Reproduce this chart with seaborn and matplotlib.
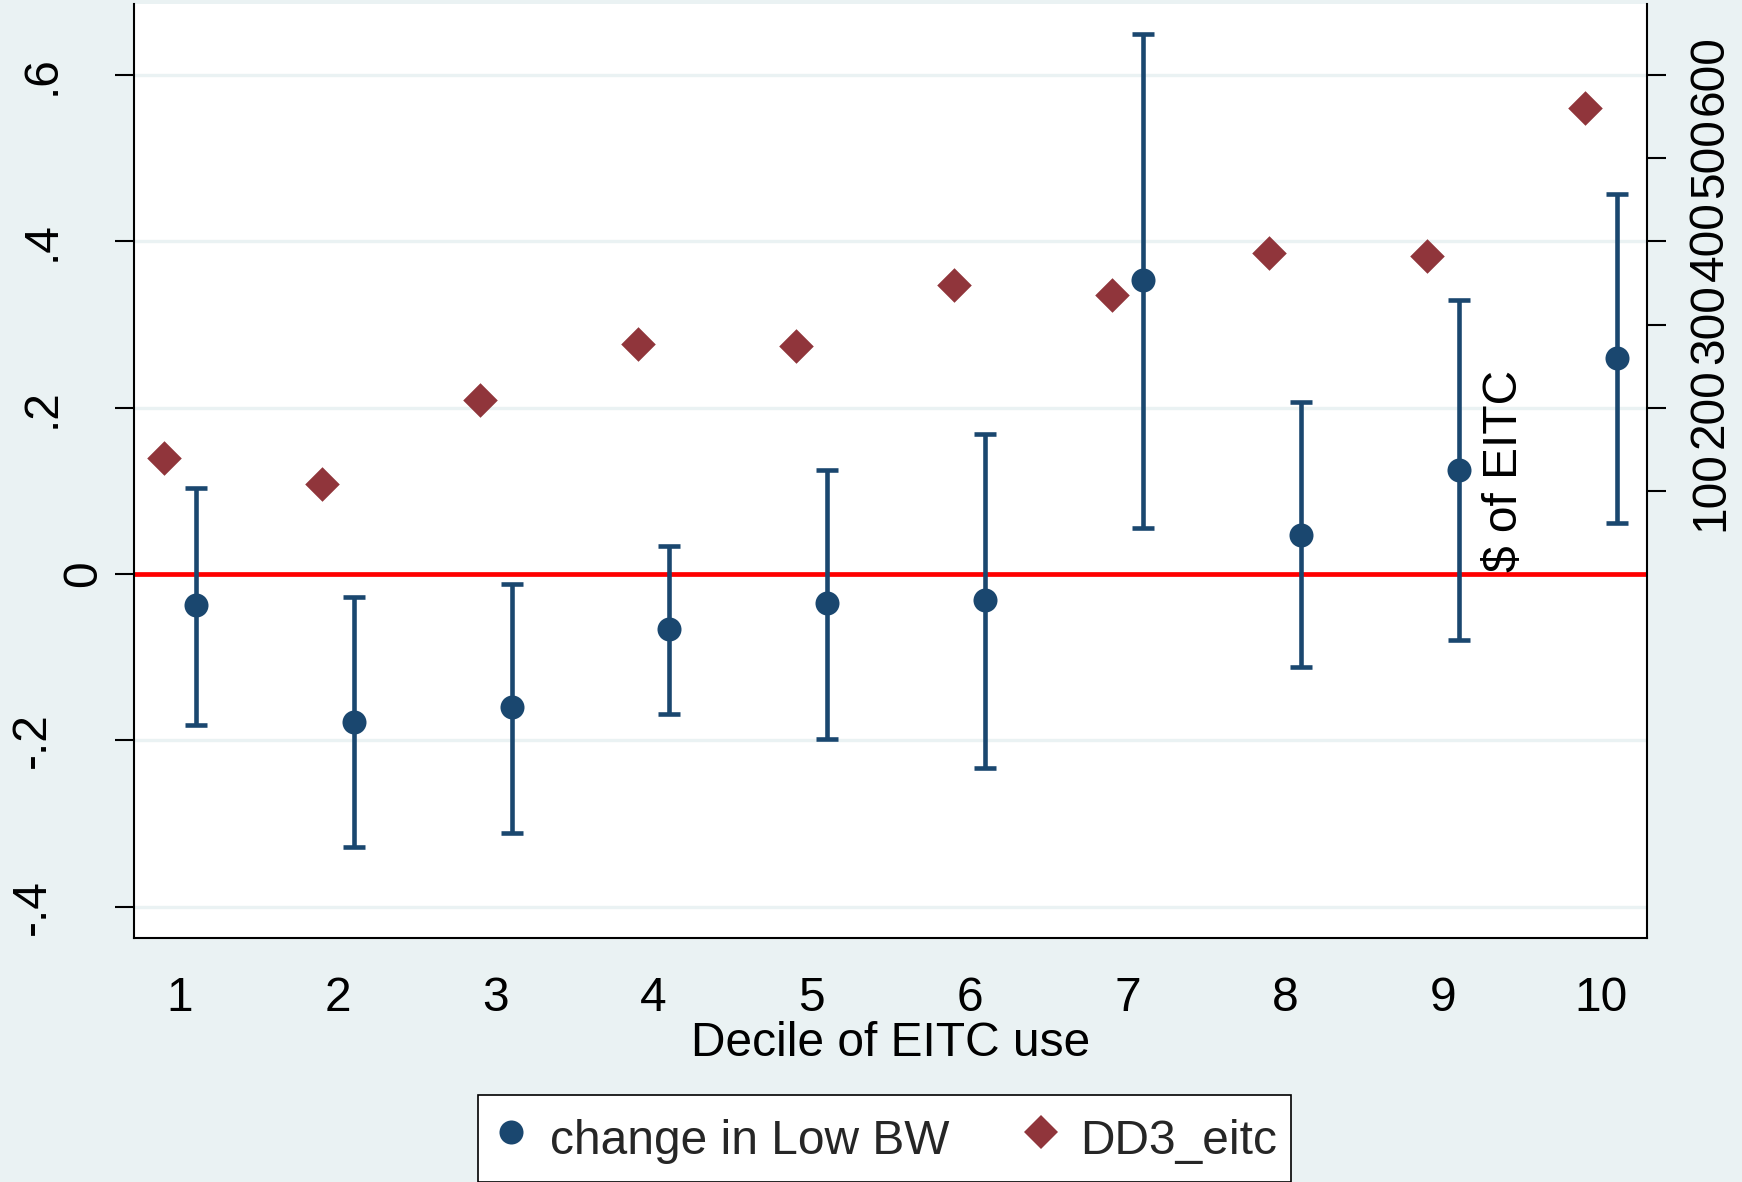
import seaborn as sns
import pandas as pd
import matplotlib.pyplot as plt
from matplotlib.lines import Line2D
from matplotlib.transforms import ScaledTranslation

#### DATA
decile = [1, 2, 3, 4, 5, 6, 7, 8, 9, 10]
low_bw = [-0.037, -0.178, -0.160, -0.066, -0.035, -0.031, 0.354, 0.047, 0.125, 0.260]
ci_lo = [-0.182, -0.328, -0.312, -0.168, -0.198, -0.233, 0.055, -0.112, -0.079, 0.061]
ci_hi = [0.104, -0.028, -0.012, 0.034, 0.125, 0.168, 0.650, 0.207, 0.329, 0.457]
eitc_dollars = [139, 108, 209, 276, 274, 348, 335, 386, 383, 560]

yticks = [-0.4, -0.2, 0, 0.2, 0.4, 0.6]
ytick_labels = ['-.4', '-.2', '0', '.2', '.4', '.6']
y2ticks = [100, 200, 300, 400, 500, 600]

df = pd.DataFrame({'decile': decile, 'low_bw': low_bw, 'lo': ci_lo, 'hi': ci_hi,
                   'eitc': eitc_dollars})
df['x_bw'] = df['decile'] + 0.1
df['x_eitc'] = df['decile'] - 0.1

#### STYLE
navy = '#1A476F'
maroon = '#90353B'
bg = '#EAF2F3'
fs = 34.5

sns.set_style('white')
plt.rcParams['font.family'] = ['Liberation Sans', 'DejaVu Sans']

fig = plt.figure(figsize=(17.42, 11.82), dpi=100, facecolor=bg)
ax = fig.add_axes([133.5 / 1742, 1 - 938 / 1182, (1647 - 133.5) / 1742, (938 - 4) / 1182])
ax.set_facecolor('white')
ax2 = ax.twinx()

ylim = (-0.4378, 0.6855)
ax.set_xlim(0.7055, 10.291)
ax.set_ylim(*ylim)
ax2.set_ylim(ylim[0] * 1000, ylim[1] * 1000)

# grid + zero line
for t in yticks:
    ax.axhline(t, color=bg, lw=2.4, zorder=1)
ax.axhline(0, color='red', lw=3.4, zorder=2)

# confidence intervals and point estimates
ax.errorbar(df['x_bw'], df['low_bw'],
            yerr=[df['low_bw'] - df['lo'], df['hi'] - df['low_bw']],
            fmt='none', ecolor=navy, elinewidth=3.3, capsize=7.6, capthick=3.3, zorder=3)
sns.scatterplot(data=df, x='x_bw', y='low_bw', ax=ax, color=navy, marker='o',
                s=299, linewidth=0, zorder=4, legend=False)
sns.scatterplot(data=df, x='x_eitc', y='eitc', ax=ax2, color=maroon, marker='D',
                s=310, linewidth=0, zorder=4, legend=False)

# axes / spines
for a in (ax, ax2):
    a.spines['top'].set_visible(False)
    for s in a.spines.values():
        s.set_color('black')
        s.set_linewidth(1.5)
ax.spines['right'].set_visible(False)
ax2.spines['left'].set_visible(False)
ax2.spines['bottom'].set_visible(False)

ax.set_xticks(decile, [str(d) for d in decile])
ax.set_yticks(yticks, ytick_labels)
ax2.set_yticks(y2ticks, [str(v) for v in y2ticks])

ax.tick_params(axis='x', length=13.7, width=1.5, pad=13.5, labelsize=fs, colors='black')
ax.tick_params(axis='y', length=13.7, width=1.5, pad=0, labelsize=fs, colors='black')
ax2.tick_params(axis='y', length=13.7, width=1.5, pad=41, labelsize=fs, colors='black')

ax.set_xlabel('Decile of EITC use', fontsize=fs, labelpad=0, color='black')
ax.set_ylabel('')
ax2.set_ylabel(r'\$ of EITC', fontsize=fs, rotation=90, ha='center', va='baseline',
               rotation_mode='anchor', color='black')
ax2.yaxis.set_label_coords(0.914, 0.5)

for lab in ax2.get_yticklabels():
    lab.set_rotation(90)
    lab.set_rotation_mode('anchor')
    lab.set_ha('center')
    lab.set_va('baseline')

# Stata places its rotated left labels a bit unevenly
offsets = {'-.4': -69.5, '-.2': -69.5, '0': -18.5, '.2': -59.5, '.4': -59.5, '.6': -59.5}
for lab in ax.get_yticklabels():
    lab.set_rotation(90)
    lab.set_rotation_mode('anchor')
    lab.set_ha('center')
    lab.set_va('baseline')
    dx = offsets[lab.get_text()]
    lab.set_transform(lab.get_transform() + ScaledTranslation(dx / 100, 0, fig.dpi_scale_trans))

# legend (runs off the bottom, like the original)
handles = [Line2D([], [], ls='', marker='o', color=navy, markersize=17.3, markeredgewidth=0),
           Line2D([], [], ls='', marker='D', color=maroon, markersize=17.6, markeredgewidth=0)]
leg = fig.legend(handles, ['change in Low BW', 'DD3_eitc'], loc='upper left',
                 bbox_to_anchor=(477.5 / 1742, 1 - 1095 / 1182), ncol=2, fontsize=fs,
                 frameon=True, fancybox=False, borderaxespad=0, borderpad=0.3,
                 handlelength=0.8, handleheight=1.5, handletextpad=0.42, columnspacing=1.5)
leg.get_frame().set_edgecolor('black')
leg.get_frame().set_linewidth(1.2)
leg.get_frame().set_facecolor('white')
leg.get_frame().set_alpha(1)

fig.savefig('out.png', dpi=100, facecolor=bg)
